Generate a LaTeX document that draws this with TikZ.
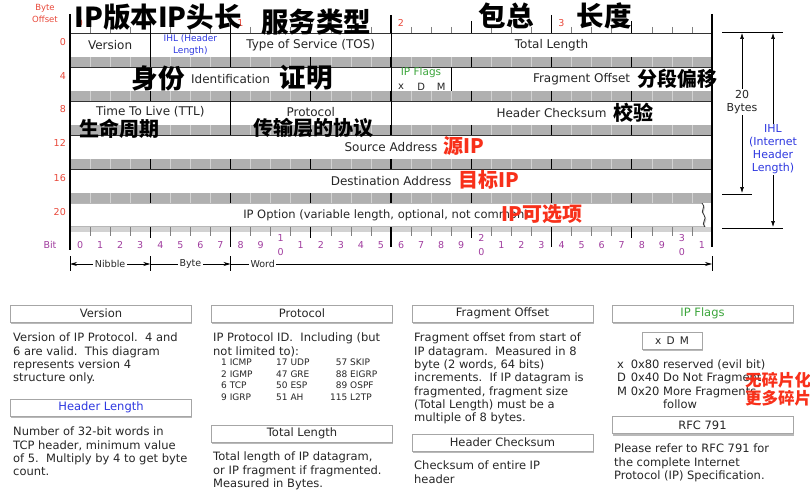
\documentclass[tikz,border=0pt]{standalone}
\usepackage{fontspec}
\setmainfont{DejaVu Sans}
\newfontfamily\cjk{Noto Sans CJK SC}
\usepackage{tikz}
\usetikzlibrary{arrows.meta, positioning, shadows}
\definecolor{offred}{HTML}{E8483A}
\definecolor{bitpurple}{HTML}{A03C9E}
\definecolor{ihlblue}{HTML}{2E38E0}
\definecolor{flaggreen}{HTML}{3DA63D}
\definecolor{notered}{HTML}{F8301A}
\definecolor{labelgray}{HTML}{262626}
\tikzset{
  hdrrow/.style={draw=black!80, line width=0.8pt, fill=white, drop shadow={shadow xshift=1.2pt, shadow yshift=-1.5pt, opacity=0.45}},
  band/.style={fill=gray!62},
  fld/.style={font=\fontsize{12}{12.5}\selectfont, text=labelgray, align=center, inner sep=0pt},
  offnum/.style={font=\fontsize{9.5}{12}\selectfont, text=offred, inner sep=0pt, align=center},
  bitnum/.style={font=\fontsize{9.5}{10}\selectfont, text=bitpurple, inner sep=0pt},
  scalelbl/.style={font=\fontsize{9.5}{10}\selectfont, fill=white, inner sep=1.5pt, text=labelgray},
  scalearr/.style={line width=0.7pt},
  dimarr/.style={{Latex[length=6pt,width=4pt]}-{Latex[length=6pt,width=4pt]}, line width=0.6pt},
  dimlbl/.style={fill=white, inner sep=1pt, align=center, font=\fontsize{11}{13}\selectfont, text=labelgray},
  titlebar/.style={draw=gray!70, line width=0.5pt, fill=white, minimum width=181pt, minimum height=17pt, inner sep=0pt, font=\fontsize{11.5}{12}\selectfont, text=labelgray, drop shadow={shadow xshift=0.5pt, shadow yshift=-2pt, opacity=0.55}},
  desc/.style={anchor=north west, align=left, inner sep=0pt, font=\fontsize{11.5}{13.3}\selectfont, text=labelgray},
  ptab/.style={anchor=north west, inner sep=0pt, font=\fontsize{9}{11.7}\selectfont, text=labelgray},
  zh/.style={font=\cjk\bfseries\fontsize{20}{22}\selectfont, inner sep=0pt},
  zhbig/.style={zh, font=\cjk\bfseries\fontsize{27.5}{29}\selectfont},
  zhred/.style={zh, text=notered},
}
\begin{document}
\begin{tikzpicture}[x=1pt, y=-1pt]
\useasboundingbox (0,0) rectangle (810,497);

\foreach \t in {33,67,101,135,169}
  \draw[hdrrow] (70,\t) rectangle (712,\t+24);
\draw[hdrrow] (70,203) -- (702,203) .. controls (707,207) and (699,211) .. (704,215)
  .. controls (708,219) and (700,223) .. (705,227) -- (70,227) -- cycle;

\foreach \t in {57,91,125,159,193}
  \fill[band] (70,\t) rectangle (712,\t+10);
\fill[gray!35] (70,227) rectangle (712,232);

\foreach \i in {1,...,31}{
  \pgfmathsetmacro\xx{70+20.0625*\i}
  \pgfmathtruncatemacro\nib{mod(\i,4)}
  \pgfmathtruncatemacro\byt{mod(\i,8)}
  \ifnum\byt=0
    \tikzset{tk/.style={black, line width=1.8pt}}
    \draw[tk] (\xx,15) -- (\xx,33);
    \draw[tk] (\xx,227) -- (\xx,247);
  \else\ifnum\nib=0
    \tikzset{tk/.style={black, line width=1.1pt}}
    \draw[tk] (\xx,21) -- (\xx,33);
    \draw[tk] (\xx,227) -- (\xx,238);
  \else
    \tikzset{tk/.style={white!65!gray, line width=0.6pt}}
    \draw[gray, line width=0.5pt] (\xx,27) -- (\xx,33);
    \draw[gray, line width=0.5pt] (\xx,227) -- (\xx,236);
  \fi\fi
  \foreach \t in {57,91,125,159,193}
    \draw[tk] (\xx,\t) -- (\xx,\t+10);
}

\draw[line width=0.9pt] (150.25,33) -- (150.25,57) (230.5,33) -- (230.5,57) (391,33) -- (391,57)
  (391,67) -- (391,91) (451.19,67) -- (451.19,91)
  (230.5,101) -- (230.5,125) (391,101) -- (391,125);
\draw[line width=2pt] (70,14) -- (70,250) (712,14) -- (712,247);

\node[offnum, font=\fontsize{8.5}{12}\selectfont] (byteoff) at (45,13) {Byte\\Offset};
\foreach \o/\y in {0/42,4/76,8/109,12/143,16/178,20/212}
  \node[offnum, anchor=east] (off\o) at (66,\y) {\o};
\foreach \n/\xx in {0/80,1/240.5,2/401,3/561.5}
  \node[offnum] (top\n) at (\xx,23) {\n};

\node[fld] (version) at (110.1,45) {Version};
\node[fld, text=ihlblue, font=\fontsize{9}{12}\selectfont] (ihl) at (190.4,45) {IHL (Header\\Length)};
\node[fld] (tos) at (310.75,45) {Type of Service (TOS)};
\node[fld] (totlen) at (551.5,45) {Total Length};
\node[fld] (ident) at (230.5,79) {Identification};
\node[fld, text=flaggreen, font=\fontsize{10.5}{12}\selectfont] (flags) at (421,73) {IP Flags};
\node[fld, font=\fontsize{10}{12}\selectfont] (fx) at (401.1,87) {x};
\node[fld, font=\fontsize{10}{12}\selectfont] (fd) at (421.2,87) {D};
\node[fld, font=\fontsize{10}{12}\selectfont] (fm) at (441.2,87) {M};
\node[fld] (fragoff) at (581.6,79) {Fragment Offset};
\node[fld] (ttl) at (150.25,112) {Time To Live (TTL)};
\node[fld] (proto) at (310.75,112) {Protocol};
\node[fld] (cksum) at (551.5,113) {Header Checksum};
\node[fld] (srcaddr) at (391,147) {Source Address};
\node[fld] (dstaddr) at (391,181) {Destination Address};
\node[fld, font=\fontsize{11.5}{12.5}\selectfont] (ipopt) at (386,215) {IP Option (variable length, optional, not common)};

\node[bitnum] (bitlbl) at (50,245) {Bit};
\foreach \i in {0,...,31}{
  \pgfmathsetmacro\cx{80.03+20.0625*\i}
  \pgfmathtruncatemacro\d{mod(\i,10)}
  \pgfmathtruncatemacro\tn{\i/10}
  \ifnum\d=0 \ifnum\i>0
    \node[bitnum] (bt\i) at (\cx,238) {\tn};
    \node[bitnum] (b\i) at (\cx,252) {0};
  \else
    \node[bitnum] (b\i) at (\cx,245) {0};
  \fi
  \else
    \node[bitnum] (b\i) at (\cx,245) {\d};
  \fi
}

\coordinate (s0) at (70,264);
\coordinate (s4) at (150.25,264);
\coordinate (s8) at (230.5,264);
\coordinate (s32) at (712,264);
\foreach \xx in {70,150.25,230.5,712}
  \draw[line width=0.8pt] (\xx,256) -- (\xx,271);
\draw[scalearr, {Stealth[length=7pt,width=4pt]}-{Stealth[length=7pt,width=4pt]}] (s0) -- node[scalelbl] {Nibble} (s4);
\draw[scalearr, -{Stealth[length=7pt,width=4pt]}] (s4) -- node[scalelbl] {Byte} (s8);
\draw[scalearr, -{Stealth[length=7pt,width=4pt]}] (s8) -- node[scalelbl, pos=0.067] {Word} (s32);

\coordinate (dtop) at (722,32);
\coordinate (dmid) at (722,194);
\coordinate (dbot) at (722,228);
\draw[line width=0.6pt] (dtop) -- ++(61,0) (dmid) -- ++(30,0) (dbot) -- ++(61,0);
\draw[dimarr] (742,33) -- node[dimlbl, pos=0.43] (twenty) {20\\Bytes} (742,193);
\draw[dimarr] (773,33) -- node[dimlbl, pos=0.6, text=ihlblue] (ihllen) {IHL\\(Internet\\Header\\Length)} (773,227);

\node[titlebar] (verbar) at (101,313.5) {Version};
\node[desc] (vertxt) at (13,333) {Version of IP Protocol.\ \ 4 and\\6 are valid.\ \ This diagram\\represents version 4\\structure only.};
\node[titlebar, text=ihlblue] (hlbar) at (101,407.5) {Header Length};
\node[desc] (hltxt) at (13,427) {Number of 32-bit words in\\TCP header, minimum value\\of 5.\ \ Multiply by 4 to get byte\\count.};

\node[titlebar] (protobar) at (302,313.5) {Protocol};
\node[desc] (prototxt) at (213,333) {IP Protocol ID.\ \ Including (but\\not limited to):};
\node[ptab] (pcol1) at (221,357) {\begin{tabular}{@{}r@{\ }l@{}}1&ICMP\\2&IGMP\\6&TCP\\9&IGRP\end{tabular}};
\node[ptab] (pcol2) at (276,357) {\begin{tabular}{@{}r@{\ }l@{}}17&UDP\\47&GRE\\50&ESP\\51&AH\end{tabular}};
\node[ptab] (pcol3) at (330,357) {\begin{tabular}{@{}r@{\ }l@{}}57&SKIP\\88&EIGRP\\89&OSPF\\115&L2TP\end{tabular}};
\node[titlebar] (tlbar) at (302,433.5) {Total Length};
\node[desc] (tltxt) at (213,452) {Total length of IP datagram,\\or IP fragment if fragmented.\\Measured in Bytes.};

\node[titlebar] (fobar) at (502.5,313.5) {Fragment Offset};
\node[desc] (fotxt) at (414,333) {Fragment offset from start of\\IP datagram.\ \ Measured in 8\\byte (2 words, 64 bits)\\increments.\ \ If IP datagram is\\fragmented, fragment size\\(Total Length) must be a\\multiple of 8 bytes.};
\node[titlebar] (hcbar) at (502.5,442.5) {Header Checksum};
\node[desc] (hctxt) at (414,461) {Checksum of entire IP\\header};

\node[titlebar, text=flaggreen] (flbar) at (702.5,313.5) {IP Flags};
\node[titlebar, minimum width=60pt, font=\fontsize{10.5}{12}\selectfont] (flbox) at (672,340.5) {x\enspace D\enspace M};
\node[desc] (fltxt) at (617,359) {\begin{tabular}{@{}l@{\ }l@{\ }l@{}}x&0x80&reserved (evil bit)\\D&0x40&Do Not Fragment\\M&0x20&More Fragments\\&&follow\end{tabular}};
\node[titlebar] (rfcbar) at (702.5,425) {RFC 791};
\node[desc] (rfctxt) at (614,444) {Please refer to RFC 791 for\\the complete Internet\\Protocol (IP) Specification.};

\node[zhbig] (zhver) at (158,17) {IP版本IP头长};
\node[zhbig] (zhtos) at (316,22) {服务类型};
\node[zhbig] (zhtot1) at (506,16) {包总};
\node[zhbig] (zhtot2) at (604,16) {长度};
\node[zhbig, font=\cjk\bfseries\fontsize{26.5}{28}\selectfont] (zhid1) at (158,78) {身份};
\node[zhbig, font=\cjk\bfseries\fontsize{26.5}{28}\selectfont] (zhid2) at (306,78) {证明};
\node[zh] (zhfrag) at (677,79) {分段偏移};
\node[zh] (zhck) at (633,113) {校验};
\node[zh] (zhttl) at (119,129) {生命周期};
\node[zh] (zhproto) at (313,128) {传输层的协议};
\node[zhred] (zhsrc) at (464,146) {源IP};
\node[zhred] (zhdst) at (489,180) {目标IP};
\node[zhred] (zhopt) at (542,214) {IP可选项};
\node[zhred, anchor=west, font=\cjk\bfseries\fontsize{16.5}{18}\selectfont] (zhdf) at (745,380) {无碎片化};
\node[zhred, anchor=west, font=\cjk\bfseries\fontsize{16.5}{18}\selectfont] (zhmf) at (745,398) {更多碎片};
\end{tikzpicture}
\end{document}
